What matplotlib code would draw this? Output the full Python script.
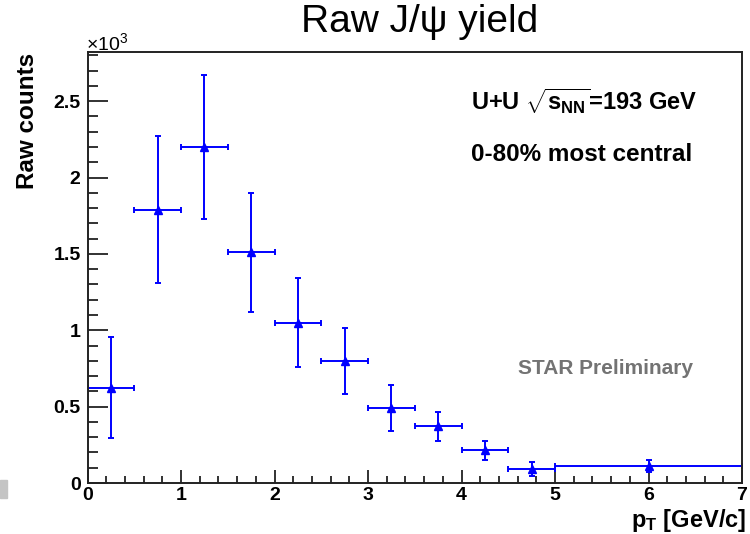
import numpy as np
import matplotlib.pyplot as plt
from matplotlib.patches import Rectangle
from matplotlib.ticker import MultipleLocator, FormatStrFormatter

plt.rcParams['font.family'] = ['Liberation Sans', 'DejaVu Sans']
plt.rcParams['mathtext.fontset'] = 'custom'
plt.rcParams['mathtext.rm'] = 'Liberation Sans'
plt.rcParams['mathtext.bf'] = 'Liberation Sans:bold'
plt.rcParams['mathtext.it'] = 'Liberation Sans:italic'

# raw J/psi counts per pT bin
pt = [0.25, 0.75, 1.25, 1.75, 2.25, 2.75, 3.25, 3.75, 4.25, 4.75, 6.0]
pt_halfwidth = [0.25, 0.25, 0.25, 0.25, 0.25, 0.25, 0.25, 0.25, 0.25, 0.25, 1.0]
counts = [625, 1790, 2200, 1510, 1050, 800, 490, 370, 213, 92, 109]
counts_err = [330, 480, 470, 390, 290, 215, 150, 95, 60, 45, 40]

fig = plt.figure(figsize=(7.5, 5.34), dpi=100)
ax = fig.add_axes([0.1167, 0.0955, 0.8727, 0.8066])

y = np.array(counts) / 1e3
yerr = np.array(counts_err) / 1e3
ax.errorbar(pt, y, xerr=pt_halfwidth, yerr=yerr, fmt='^', color='#0000ff',
            ms=6, elinewidth=1.4, capsize=2, capthick=1.4)

ax.set_xlim(0, 7)
ax.set_ylim(0, 2.82)
ax.xaxis.set_major_locator(MultipleLocator(1))
ax.xaxis.set_minor_locator(MultipleLocator(0.2))
ax.yaxis.set_major_locator(MultipleLocator(0.5))
ax.yaxis.set_minor_locator(MultipleLocator(0.1))
ax.yaxis.set_major_formatter(FormatStrFormatter('%g'))

ax.tick_params(axis='both', which='both', direction='in', color='#222222',
               top=False, right=False, labelsize=14)
ax.tick_params(axis='x', which='major', length=9.4, width=1.3, pad=3)
ax.tick_params(axis='x', which='minor', length=4.7, width=1.3)
ax.tick_params(axis='y', which='major', length=14.4, width=1.3, pad=5)
ax.tick_params(axis='y', which='minor', length=7.2, width=1.3)
for lab in ax.get_xticklabels() + ax.get_yticklabels():
    lab.set_fontweight('bold')
for sp in ax.spines.values():
    sp.set_linewidth(1.4)
    sp.set_color('#222222')

# labels and annotations
fig.text(420 / 750, 1 - 22 / 534, 'Raw J/ψ yield', fontsize=28,
         ha='center', va='center')
fig.text(86 / 750, 1 - 43 / 534, r'$\times$10$^{3}$', fontsize=14,
         ha='left', va='center')
fig.text(28 / 750, 1 - 53 / 534, 'Raw counts', fontsize=17.5,
         fontweight='bold', rotation=90, ha='center', va='top')
fig.text(746 / 750, 1 - 520 / 534, r'$\mathbf{p_{T}}$ [GeV/c]', fontsize=17,
         fontweight='bold', ha='right', va='center')
fig.text(471 / 750, 1 - 101 / 534, r'U+U $\mathbf{\sqrt{s_{NN}}}$=193 GeV',
         fontsize=17, fontweight='bold', ha='left', va='center')
fig.text(471 / 750, 1 - 155 / 534, '0-80% most central', fontsize=17.5,
         fontweight='bold', ha='left', va='center')
fig.text(605 / 750, 1 - 368 / 534, 'STAR Preliminary', fontsize=15,
         fontweight='bold', color='#737373', ha='center', va='center')

fig.patches.append(Rectangle((0, 1 - 498 / 534), 7 / 750, 18 / 534,
                             transform=fig.transFigure, color='#c4c4c4'))

fig.savefig('out.png', dpi=100)
